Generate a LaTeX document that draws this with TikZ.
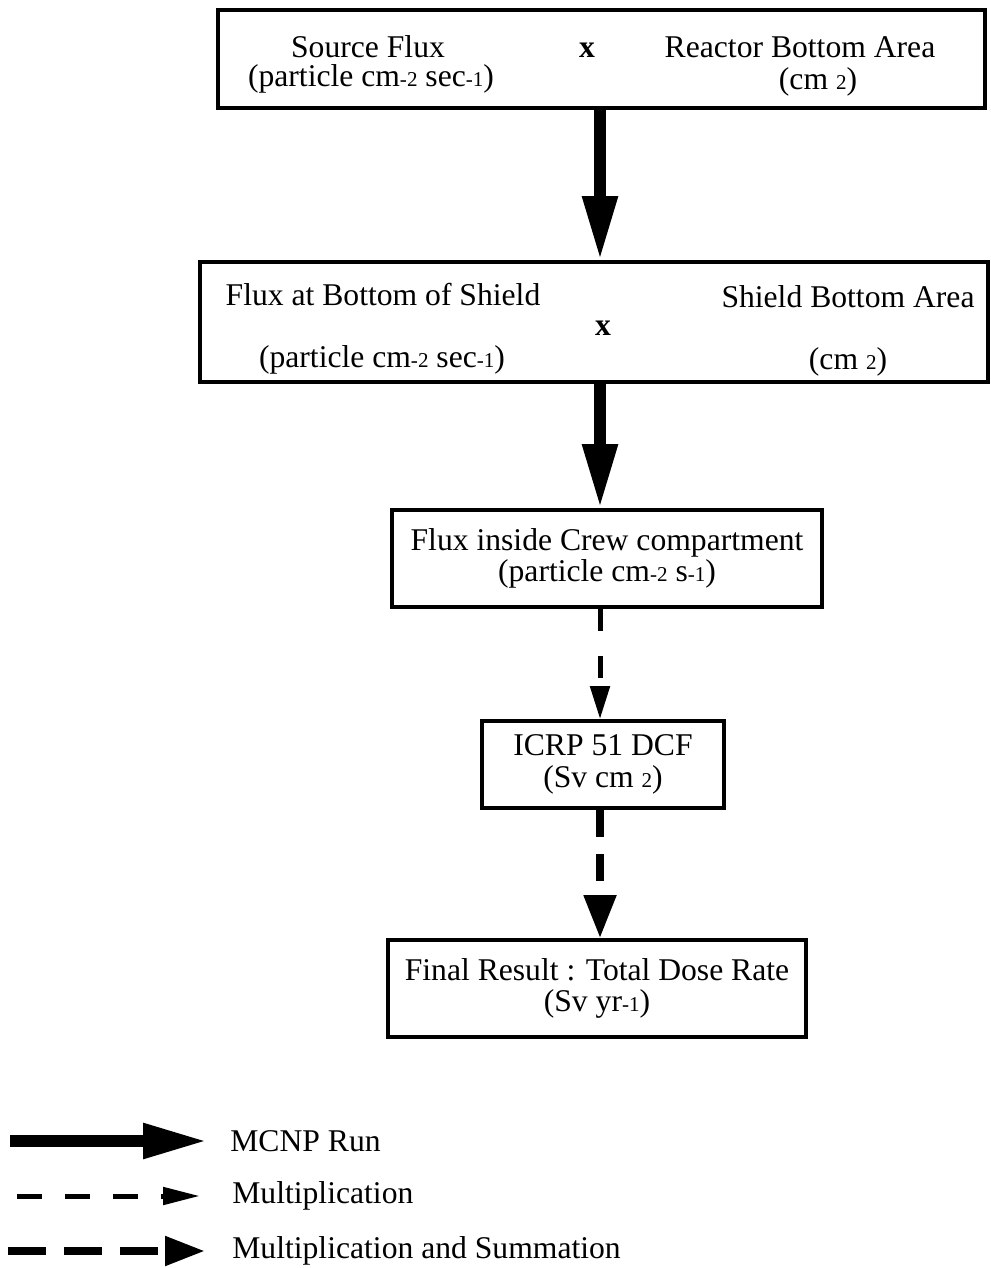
\documentclass[tikz,border=0pt]{standalone}
\usepackage{fontspec}
\setmainfont{Liberation Serif}
\usetikzlibrary{arrows.meta}
\newcommand{\ix}[1]{{\fontsize{12}{12}\selectfont #1}}

\tikzset{
  box/.style={draw, line width=0.75mm, inner sep=0pt, align=center, font=\fontsize{18}{18}\selectfont},
  txt/.style={inner sep=0pt, font=\fontsize{18}{18}\selectfont},
  run/.style={line width=2.3mm, -{Triangle[length=12.8mm,width=6.6mm]}},
  mult/.style={line width=1mm, dash pattern=on 4.4mm off 5mm, -{Triangle[length=6.6mm,width=3.8mm]}},
  multsum/.style={line width=1.6mm, dash pattern=on 5.4mm off 3.4mm, -{Triangle[length=8.6mm,width=6.2mm]}},
}

\begin{document}
\begin{tikzpicture}[x=0.2mm, y=-0.2mm]
\useasboundingbox (0,0) rectangle (990,1268);
\coordinate (ax) at (600,0);

% boxes
\node[box, minimum width=153.4mm, minimum height=19.6mm] (src) at (601.5,59) {};
\node[box, minimum width=157.6mm, minimum height=24mm] (shield) at (594,322) {};
\node[box, minimum width=86mm, minimum height=19.4mm] (crew) at (607,558.5)
  {Flux inside Crew compartment\\(particle cm\ix{-2} s\ix{-1})};
\node[box, minimum width=48.4mm, minimum height=17.4mm] (dcf) at (603,764.5)
  {ICRP 51 DCF\\(Sv cm \ix{2})};
\node[box, minimum width=83.6mm, minimum height=19.4mm] (dose) at (597,988.5)
  {Final Result : Total Dose Rate\\(Sv yr\ix{-1})};

% texts of the two top boxes
\node[txt] (srcflux) at (368,47) {Source Flux};
\node[txt] (srcunit) at (371,79) {(particle cm\ix{-2} sec\ix{-1})};
\node[txt] (srcx) at (587,50) {\bfseries x};
\node[txt] (rarea) at (800,47) {Reactor Bottom Area};
\node[txt] (runit) at (818,82) {(cm \ix{2})};

\node[txt] (shflux) at (383,295) {Flux at Bottom of Shield};
\node[txt] (shunit) at (382,360) {(particle cm\ix{-2} sec\ix{-1})};
\node[txt] (shx) at (603,328) {\bfseries x};
\node[txt] (sharea) at (848,297) {Shield Bottom Area};
\node[txt] (saunit) at (848,362) {(cm \ix{2})};

% connectors
\draw[run] (src.south -| ax) -- (shield.north -| ax);
\draw[run] (shield.south -| ax) -- (crew.north -| ax);
\draw[mult] (crew.south -| ax) -- (dcf.north -| ax);
\draw[multsum] (dcf.south -| ax) -- (dose.north -| ax);

% legend
\coordinate (l1a) at (10,1141);
\coordinate (l1b) at (207,1141);
\coordinate (l2a) at (17,1196);
\coordinate (l2b) at (200,1196);
\coordinate (l3a) at (8,1251);
\coordinate (l3b) at (205,1251);
\draw[run] (l1a) -- (l1b);
\draw[mult, dash pattern=on 5mm off 4.6mm, -{Triangle[length=7.4mm,width=3.4mm]}] (l2a) -- (l2b);
\draw[multsum, dash pattern=on 7.6mm off 3.6mm, -{Triangle[length=8mm,width=5.6mm]}] (l3a) -- (l3b);
\node[txt, anchor=west] (lrun) at (230,1141) {MCNP Run};
\node[txt, anchor=west] (lmult) at (232,1196) {Multiplication};
\node[txt, anchor=west] (lsum) at (232,1251) {Multiplication and Summation};
\end{tikzpicture}
\end{document}
